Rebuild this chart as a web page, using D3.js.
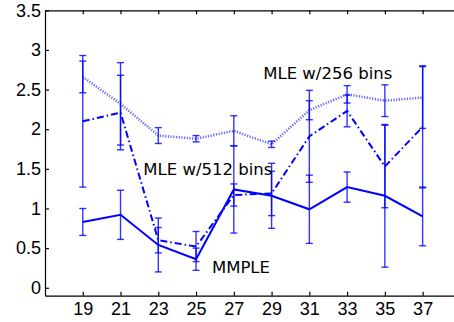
<!DOCTYPE html>
<html>
<head>
<meta charset="utf-8">
<script src="https://cdn.jsdelivr.net/npm/d3@7"></script>
<style>
    body { margin: 0; background: #fff; }
    svg { display: block; font-family: "DejaVu Sans", sans-serif; }
    .axis text { font-family: "Liberation Sans", Arial, sans-serif; font-size: 18px; fill: #000; }
    .axis path, .axis line { stroke: #000; stroke-width: 1.2; }
    .label { font-size: 16.5px; fill: #000; }
</style>
</head>
<body>
<svg width="454" height="322"></svg>
<script>
(function () {
    "use strict";

    // window sizes used in the experiment
    var sizes = [19, 21, 23, 25, 27, 29, 31, 33, 35, 37];

    var mle256 = [2.66, 2.32, 1.92, 1.88, 1.98, 1.81, 2.24, 2.44, 2.36, 2.40];
    var mle256Err = [0.20, 0.52, 0.10, 0.04, 0.19, 0.04, 0.12, 0.11, 0.20, 0.39];

    var mle512 = [2.10, 2.21, 0.60, 0.52, 1.17, 1.19, 1.91, 2.23, 1.53, 2.03];
    var mle512Err = [0.83, 0.47, 0.16, 0.19, 0.14, 0.28, 0.58, 0.20, 0.52, 0.77];

    var mmple = [0.83, 0.92, 0.54, 0.36, 1.24, 1.16, 0.99, 1.27, 1.16, 0.90];
    var mmpleErr = [0.17, 0.31, 0.34, 0.14, 0.55, 0.41, 0.43, 0.19, 0.90, 0.37];

    var xTicks = [19, 21, 23, 25, 27, 29, 31, 33, 35, 37];
    var yTicks = [0, 0.5, 1, 1.5, 2, 2.5, 3, 3.5];
    var yTickLabels = ["0", "0.5", "1", "1.5", "2", "2.5", "3", "3.5"];

    // text annotations, in data units
    var labels = [
        { text: "MLE w/256 bins", x: 28.56, y: 2.63 },
        { text: "MLE w/512 bins", x: 22.21, y: 1.42 },
        { text: "MMPLE", x: 25.84, y: 0.19 }
    ];

    var series = [
        { values: mle256, err: mle256Err, dash: "1.2,1.5", width: 2.6, opacity: 0.6 },
        { values: mle512, err: mle512Err, dash: "7,3,1.5,3", width: 2, opacity: 1 },
        { values: mmple, err: mmpleErr, dash: null, width: 2, opacity: 1 }
    ];

    var svg = d3.select("svg");

    var x = d3.scaleLinear().domain([17, 39]).range([45, 460.4]),
        y = d3.scaleLinear().domain([-0.1, 3.5]).range([295.7, 10.3]);

    var blue = "#0000ff";
    var cap = 3.5;

    svg.append("g")
        .attr("class", "axis axis--top")
        .attr("transform", "translate(0," + y(3.5) + ")")
        .call(d3.axisTop(x).tickValues(xTicks).tickSize(-4).tickSizeOuter(0).tickFormat(""));

    svg.append("g")
        .attr("class", "axis axis--x")
        .attr("transform", "translate(0," + y(-0.1) + ")")
        .call(d3.axisBottom(x).tickValues(xTicks).tickSize(-4).tickSizeOuter(0).tickPadding(7));

    svg.append("g")
        .attr("class", "axis axis--y")
        .attr("transform", "translate(" + x(17) + ",0)")
        .call(d3.axisLeft(y).tickValues(yTicks).tickSize(-4).tickSizeOuter(0).tickPadding(4)
            .tickFormat(function (d, i) {
                return yTickLabels[i];
            }));

    var line = d3.line()
        .x(function (d) { return x(d.x); })
        .y(function (d) { return y(d.y); });

    series.forEach(function (s) {
        var pts = sizes.map(function (v, i) {
            return { x: v, y: s.values[i], e: s.err[i] };
        });

        var g = svg.append("g");

        var bars = g.selectAll(".bar")
            .data(pts)
            .enter()
            .append("g")
            .attr("class", "bar")
            .attr("stroke", blue)
            .attr("stroke-width", 1.4)
            .attr("stroke-opacity", 0.8);

        bars.append("line")
            .attr("x1", function (d) { return x(d.x); })
            .attr("x2", function (d) { return x(d.x); })
            .attr("y1", function (d) { return y(d.y + d.e); })
            .attr("y2", function (d) { return y(d.y - d.e); });

        bars.append("line")
            .attr("x1", function (d) { return x(d.x) - cap; })
            .attr("x2", function (d) { return x(d.x) + cap; })
            .attr("y1", function (d) { return y(d.y + d.e); })
            .attr("y2", function (d) { return y(d.y + d.e); });

        bars.append("line")
            .attr("x1", function (d) { return x(d.x) - cap; })
            .attr("x2", function (d) { return x(d.x) + cap; })
            .attr("y1", function (d) { return y(d.y - d.e); })
            .attr("y2", function (d) { return y(d.y - d.e); });

        g.append("path")
            .datum(pts)
            .attr("fill", "none")
            .attr("stroke", blue)
            .attr("stroke-width", s.width)
            .attr("stroke-opacity", s.opacity)
            .attr("stroke-dasharray", s.dash)
            .attr("d", line);
    });

    svg.selectAll(".label")
        .data(labels)
        .enter()
        .append("text")
        .attr("class", "label")
        .attr("x", function (d) { return x(d.x); })
        .attr("y", function (d) { return y(d.y); })
        .text(function (d) { return d.text; });
})();
</script>
</body>
</html>
